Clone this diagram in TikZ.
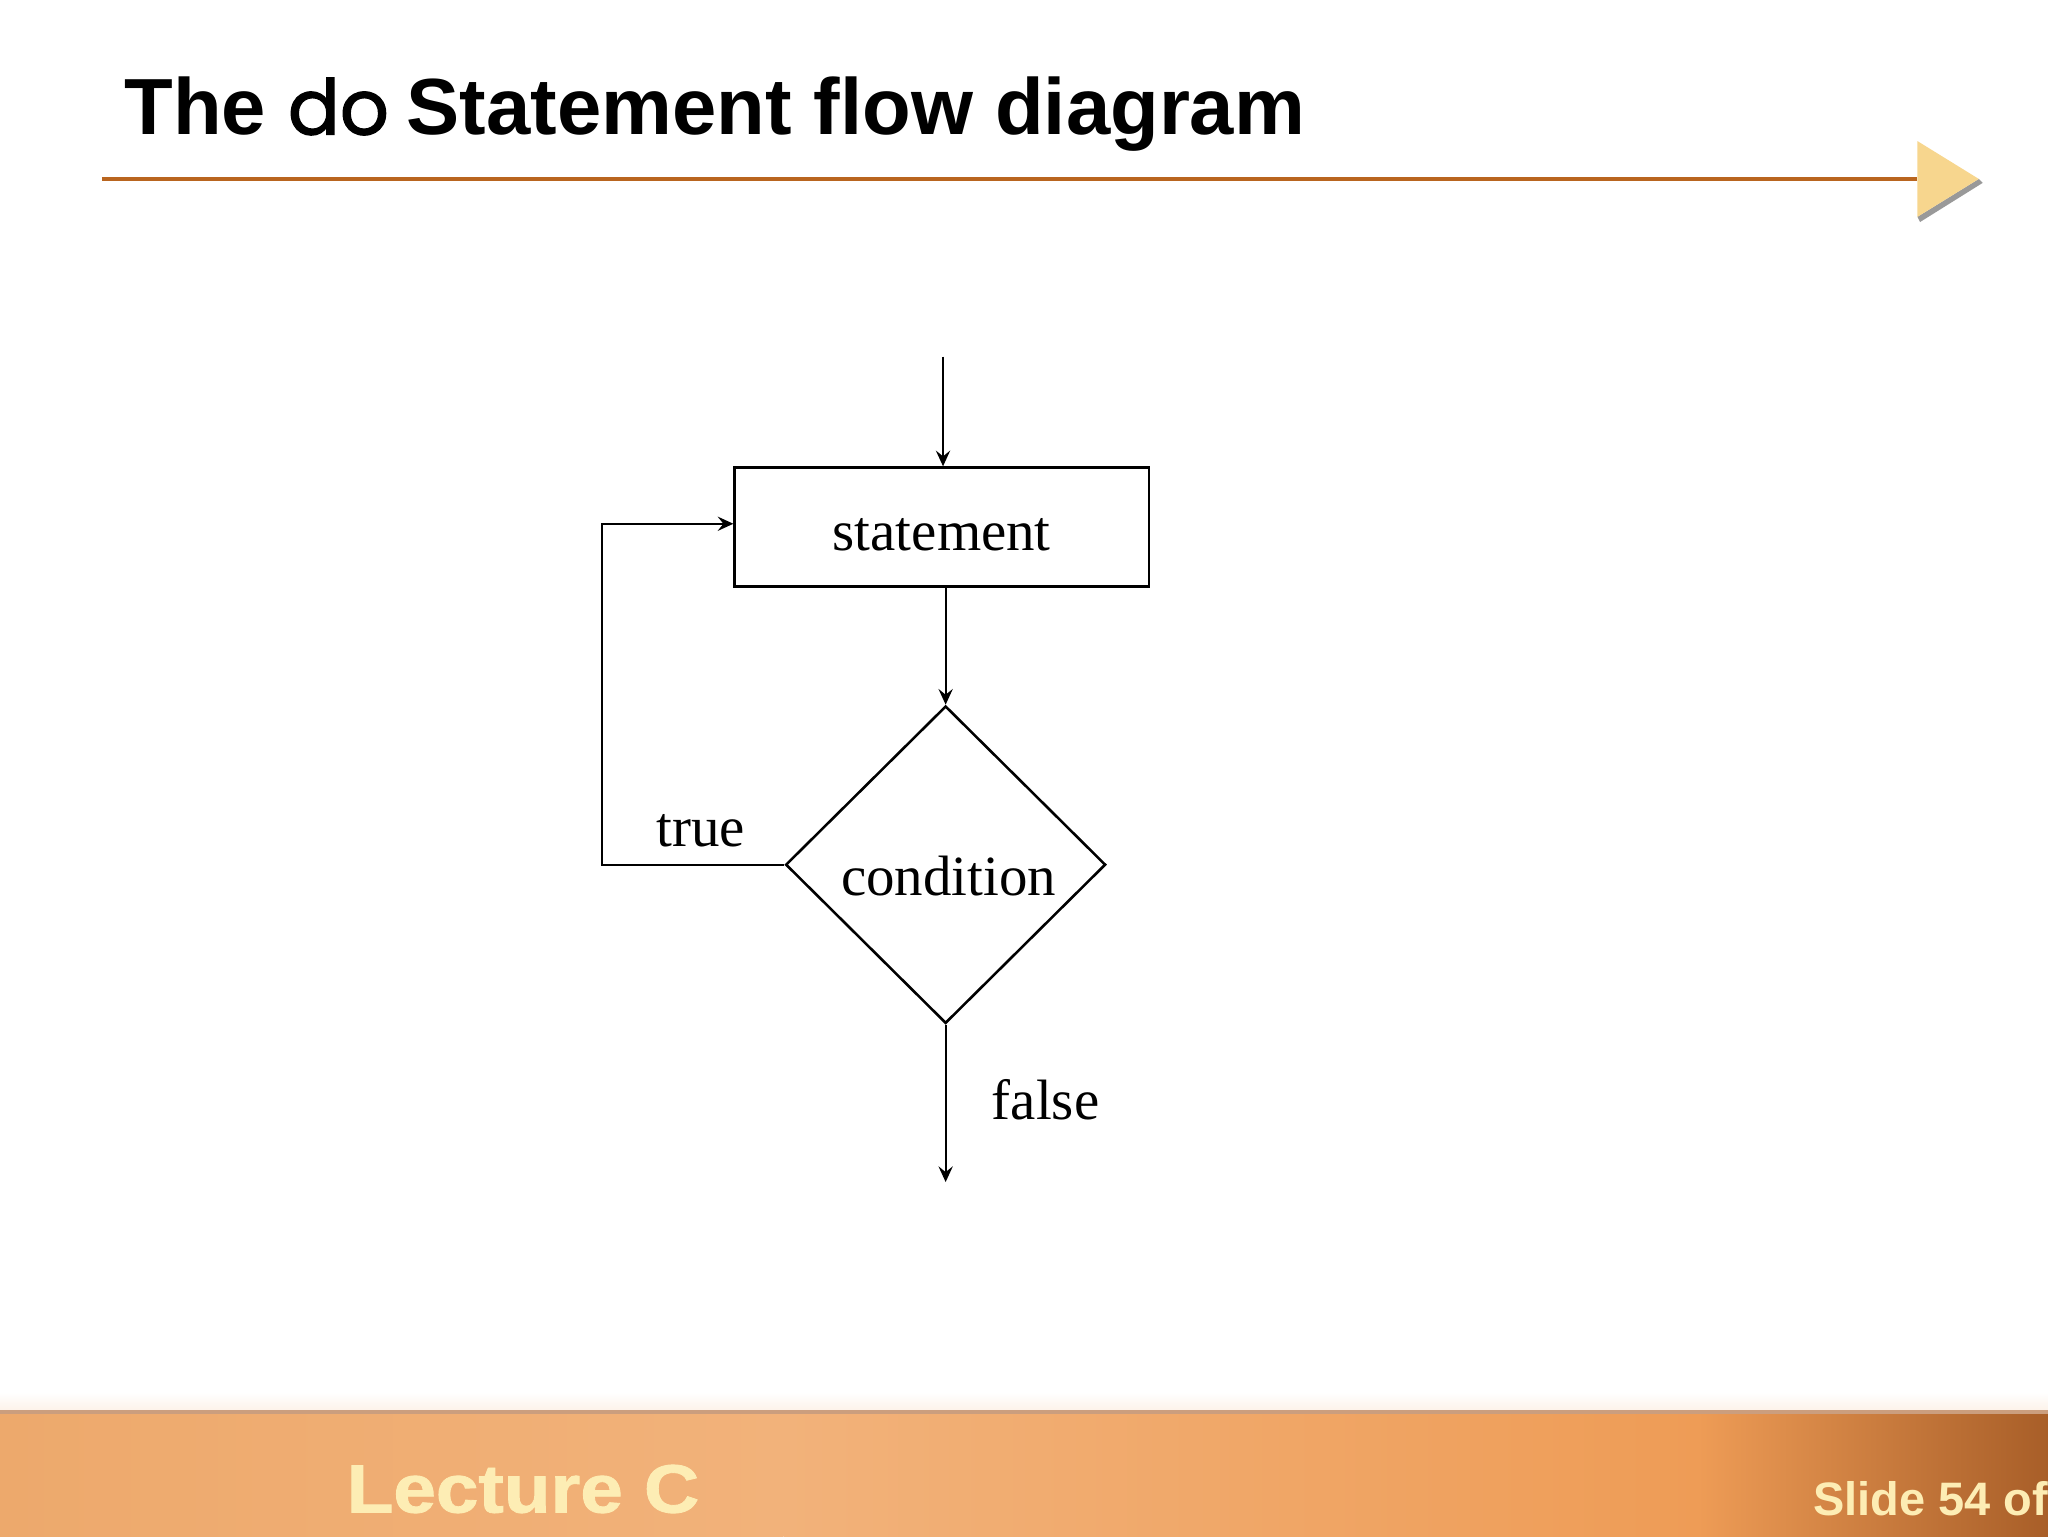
\documentclass[tikz,border=0pt]{standalone}
\usepackage{fontspec}
\setmainfont{Liberation Serif}
\newfontfamily\titlefont{Liberation Sans}
\newfontfamily\dofont[FakeBold=1.6]{Poppins}
\newfontfamily\footfont[FakeBold=1.2]{Liberation Sans Bold}
\usetikzlibrary{arrows.meta,shapes.geometric}
\definecolor{ruleorange}{HTML}{B9651F}
\definecolor{triyellow}{HTML}{F7D68E}
\definecolor{cream}{HTML}{FDEDB4}
\definecolor{footA}{HTML}{EDA96C}
\definecolor{footB}{HTML}{F2B27A}
\definecolor{footC}{HTML}{EE9C56}
\definecolor{footD}{HTML}{A85E28}
\tikzset{
  arr/.style={line width=0.8pt,-{Stealth[length=5.5pt,width=5pt,inset=2pt]}},
  stmtbox/.style={draw,line width=0.9pt,rectangle,minimum width=145.6pt,minimum height=41.8pt,inner sep=0pt,font=\fontsize{20}{24}\selectfont},
  condbox/.style={draw,line width=0.9pt,diamond,minimum width=112.5pt,minimum height=111.6pt,inner sep=0pt,font=\fontsize{20}{24}\selectfont},
  lbl/.style={inner sep=0pt,font=\fontsize{20}{24}\selectfont},
  titletxt/.style={inner sep=0pt,font=\titlefont\bfseries\fontsize{28}{32}\selectfont},
}
\begin{document}
\begin{tikzpicture}[x=0.4592pt,y=-0.4592pt]
\useasboundingbox (0,0) rectangle (1568,1176);
% footer band
\shade[top color=white,bottom color=white!85!footA] (0,1066) rectangle (1568,1080);
\shade[left color=footA,right color=footB] (0,1080) rectangle (600,1176);
\shade[left color=footB,right color=footC] (600,1080) rectangle (1300,1176);
\shade[left color=footC,right color=footD] (1300,1080) rectangle (1568,1176);
\draw[line width=1.2pt,color=footD!60!white] (0,1081) -- (1568,1081);
\node[anchor=base west,inner sep=0pt,text=cream] (lect) at (265,1158)
  {\footfont\fontsize{24}{28}\selectfont\scalebox{1.12}[1]{Lecture C}};
\node[anchor=base west,inner sep=0pt,text=cream] (slide) at (1388,1160)
  {\titlefont\bfseries\fontsize{16.5}{20}\selectfont Slide 54 of};
% title
\node[titletxt,anchor=base west] (t1) at (95,103) {The};
\node[anchor=base west,inner sep=0pt,font=\dofont\fontsize{27}{32}\selectfont] (t2) at (220,103) {do};
\node[titletxt,anchor=base west] (t3) at (311,103) {Statement flow diagram};
% title rule and triangle
\draw[line width=1.1pt,color=ruleorange] (78,137) -- (1468,137);
\fill[gray!80] (1470,170) -- (1518,140) -- (1515,137) -- (1468,166) -- cycle;
\fill[triyellow] (1468,108) -- (1515,137) -- (1468,166) -- cycle;
% flowchart
\node[stmtbox] (stmt) at (721,403.5) {\raisebox{-2.8pt}[\height][\depth]{statement}};
\node[condbox] (cond) at (724,662) {\hspace*{2pt}\raisebox{-4pt}[\height][\depth]{condition}};
\coordinate (start) at (722,273);
\coordinate (loopc) at (461,401);
\coordinate (finish) at (727,905);
\draw[arr] (start) -- (start |- stmt.north);
\draw[arr] (cond.north |- stmt.south) -- (cond.north);
\draw[arr] (cond.west) -- (cond.west -| loopc) -- (loopc) -- (loopc -| stmt.west);
\draw[arr] (cond.south) -- (cond.south |- finish);
\node[lbl,anchor=base west] (truelbl) at (502,648) {true};
\node[lbl,anchor=base west] (falselbl) at (759,857) {false};
\end{tikzpicture}
\end{document}
